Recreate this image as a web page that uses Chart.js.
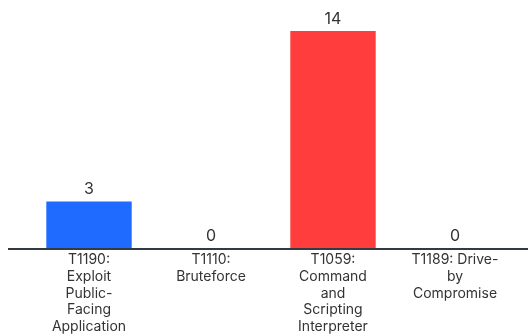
<!DOCTYPE html>
<html>
<head>
<meta charset="utf-8">
<script src="https://cdn.jsdelivr.net/npm/chart.js@4/dist/chart.umd.min.js"></script>
<style>
  html, body { margin: 0; padding: 0; background: #ffffff; }
  #wrap { width: 528px; height: 335px; }
</style>
</head>
<body>
<div id="wrap"><canvas id="c" width="528" height="335"></canvas></div>
<script>
// Technique categories, split into display lines
const techniqueLabels = [
  ["T1190:", "Exploit", "Public-", "Facing", "Application"],
  ["T1110:", "Bruteforce"],
  ["T1059:", "Command", "and", "Scripting", "Interpreter"],
  ["T1189: Drive-", "by", "Compromise"]
];
const detectionCounts = [3, 0, 14, 0];
const barColors = ["#1f6bff", "#ff3d3d", "#ff3d3d", "#ff3d3d"];

const FONT = "Inter, 'Open Sans', sans-serif";

// Draws each bar's value just above its top
const valueLabels = {
  id: "valueLabels",
  afterDatasetsDraw(chart) {
    const ctx = chart.ctx;
    const meta = chart.getDatasetMeta(0);
    ctx.save();
    ctx.font = "16px " + FONT;
    ctx.fillStyle = "#333333";
    ctx.textAlign = "center";
    ctx.textBaseline = "bottom";
    meta.data.forEach((bar, i) => {
      ctx.fillText(String(detectionCounts[i]), bar.x, bar.y - 4);
    });
    ctx.restore();
  }
};

// Baseline rule running across the full width
const baseline = {
  id: "baseline",
  afterDatasetsDraw(chart) {
    const ctx = chart.ctx;
    const y = chart.scales.y.getPixelForValue(0);
    ctx.save();
    ctx.strokeStyle = "#333a40";
    ctx.lineWidth = 2;
    ctx.beginPath();
    ctx.moveTo(8, y + 1);
    ctx.lineTo(chart.width, y + 1);
    ctx.stroke();
    ctx.restore();
  }
};

new Chart(document.getElementById("c"), {
  type: "bar",
  data: {
    labels: techniqueLabels,
    datasets: [{
      data: detectionCounts,
      backgroundColor: barColors,
      borderWidth: 0,
      barPercentage: 0.7,
      categoryPercentage: 1.0
    }]
  },
  options: {
    responsive: false,
    animation: false,
    devicePixelRatio: 1,
    layout: { padding: { top: 31, left: 28, right: 12, bottom: 0 } },
    plugins: { legend: { display: false }, tooltip: { enabled: false } },
    scales: {
      y: { display: false, min: 0, max: 14 },
      x: {
        grid: { display: false, drawTicks: false },
        border: { display: false },
        ticks: {
          color: "#333333",
          font: { family: FONT, size: 14, lineHeight: 1.21 },
          padding: 3,
          maxRotation: 0,
          autoSkip: false
        },
        afterFit(scale) { scale.height = 87; }
      }
    }
  },
  plugins: [valueLabels, baseline]
});
</script>
</body>
</html>
